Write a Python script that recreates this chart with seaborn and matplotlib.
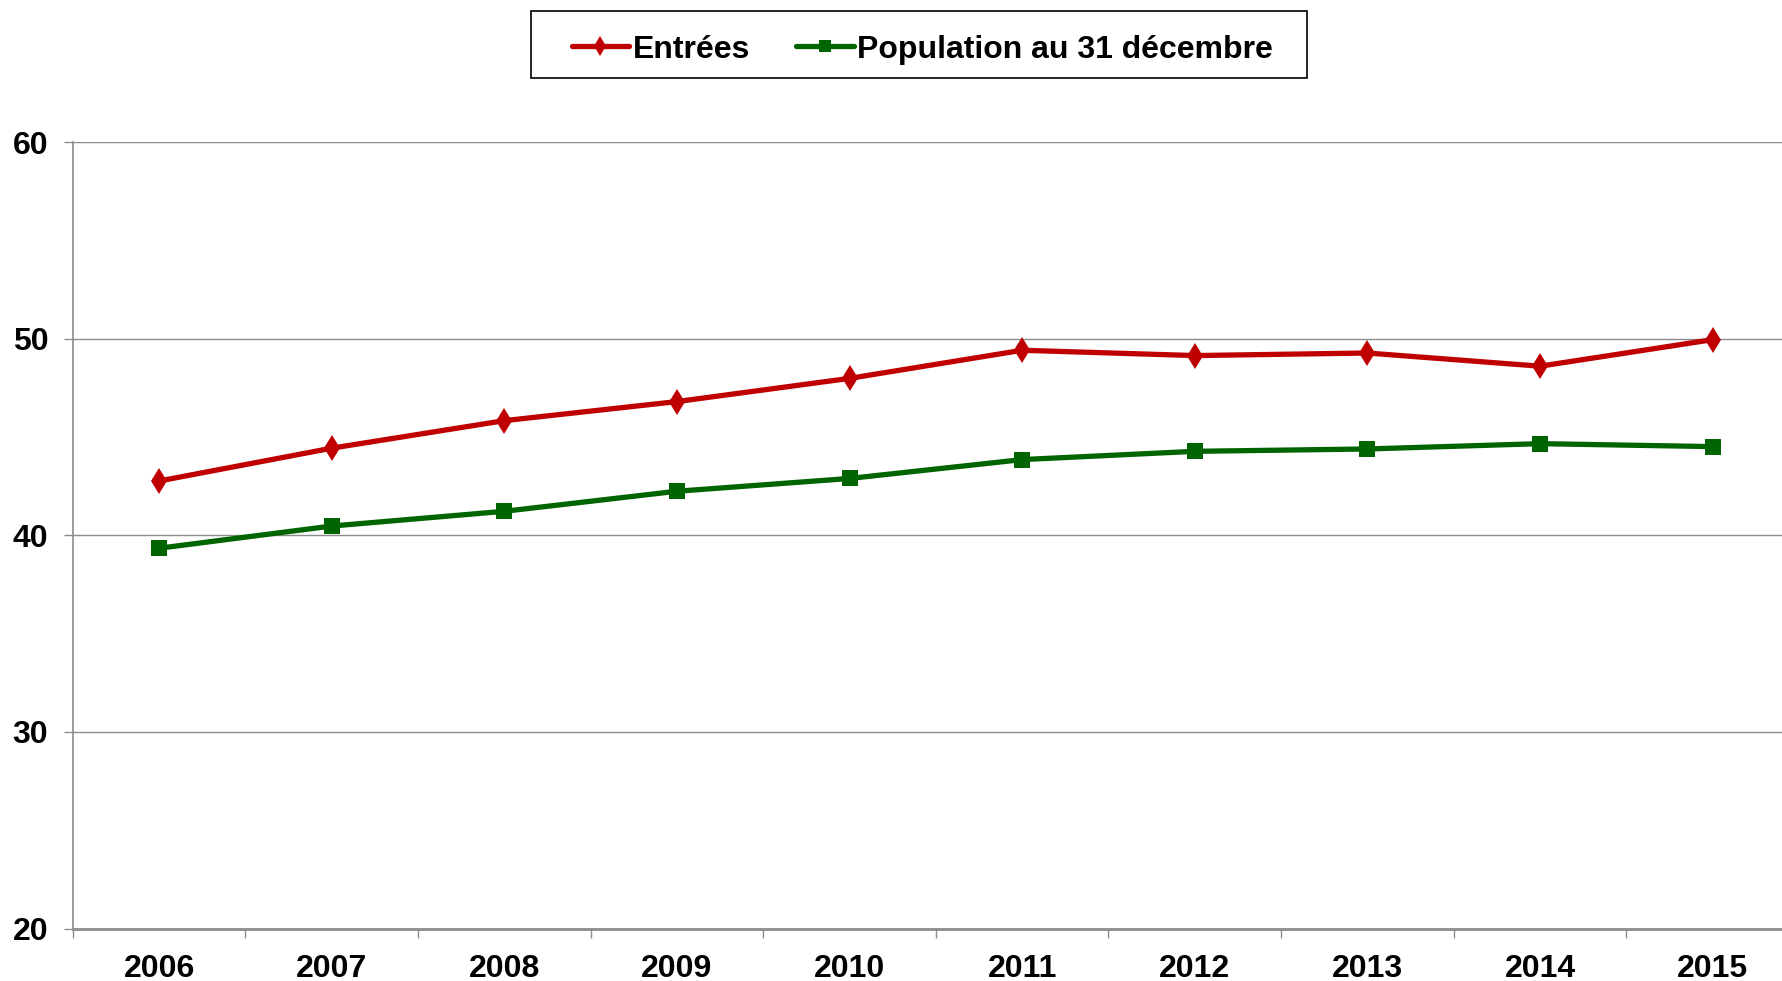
import numpy as np
import pandas as pd
import matplotlib
matplotlib.use('Agg')
import matplotlib.pyplot as plt
from matplotlib.patches import Rectangle
from matplotlib.ticker import FixedLocator, NullFormatter
import seaborn as sns

# Données
annees = ['2006', '2007', '2008', '2009', '2010', '2011', '2012', '2013', '2014', '2015']
entrees = [42.76, 44.43, 45.83, 46.80, 47.98, 49.41, 49.14, 49.27, 48.60, 49.95]
population = [39.34, 40.47, 41.22, 42.24, 42.89, 43.85, 44.27, 44.39, 44.66, 44.51]
series_noms = ['Entrées', 'Population au 31 décembre']
couleurs = ['#C00000', '#006400']
marqueurs = ['d', 's']
y_ticks = [20, 30, 40, 50, 60]

sns.set_style('white')
plt.rcParams['font.family'] = ['Liberation Sans', 'DejaVu Sans']
plt.rcParams['font.weight'] = 'bold'
plt.rcParams['text.color'] = 'black'
plt.rcParams['xtick.color'] = 'black'
plt.rcParams['ytick.color'] = 'black'


def build_frame():
    df = pd.DataFrame({'annee': annees, series_noms[0]: entrees, series_noms[1]: population})
    df['x'] = np.arange(len(annees))
    long_df = df.melt(id_vars=['annee', 'x'], value_vars=series_noms,
                      var_name='serie', value_name='valeur')
    return long_df


def plot_chart(long_df):
    fig = plt.figure(figsize=(17.82, 9.81), dpi=100)
    ax = fig.add_axes([0.0408, 0.0535, 0.9687, 0.8017])

    sns.lineplot(data=long_df, x='x', y='valeur', hue='serie', style='serie',
                 hue_order=series_noms, style_order=series_noms,
                 palette=dict(zip(series_noms, couleurs)),
                 markers=dict(zip(series_noms, marqueurs)),
                 dashes=False, linewidth=3.8, markersize=11,
                 markeredgewidth=0, ax=ax, legend=False, zorder=3)
    ax.lines[0].set_markersize(13)

    ax.set_xlim(-0.5, len(annees) - 0.5)
    ax.set_ylim(20, 60)
    ax.set_yticks(y_ticks)
    ax.set_yticklabels([str(t) for t in y_ticks])
    ax.set_xticks(np.arange(len(annees)))
    ax.set_xticklabels(annees)
    ax.xaxis.set_minor_locator(FixedLocator(np.arange(len(annees) + 1) - 0.5))
    ax.xaxis.set_minor_formatter(NullFormatter())
    ax.tick_params(axis='x', which='major', length=0, pad=18, labelsize=23,
                   labelcolor='black')
    ax.tick_params(axis='x', which='minor', bottom=True, length=6.5, width=1,
                   color='#8c8c8c', direction='out')
    ax.tick_params(axis='y', length=6.5, width=1, color='#8c8c8c', direction='out',
                   pad=11, labelsize=23, left=True, labelcolor='black')
    for lab in ax.get_xticklabels() + ax.get_yticklabels():
        lab.set_fontweight('bold')

    ax.grid(axis='y', color='#8c8c8c', linewidth=1)
    ax.grid(axis='x', visible=False)
    ax.set_axisbelow(True)
    for side in ['top', 'right']:
        ax.spines[side].set_visible(False)
    ax.spines['left'].set_color('#8c8c8c')
    ax.spines['left'].set_linewidth(1.2)
    ax.spines['bottom'].set_color('#8c8c8c')
    ax.spines['bottom'].set_linewidth(2)
    ax.set_xlabel('')
    ax.set_ylabel('')

    # legend without frame, box drawn separately for wider side padding
    handles = ax.lines[:2]
    leg = fig.legend(handles, series_noms, loc='center', bbox_to_anchor=(0.5175, 0.9495),
                     ncol=2, frameon=False,
                     prop={'size': 23, 'weight': 'bold'}, handlelength=1.8,
                     handletextpad=0.1, columnspacing=1.45, borderpad=0.5,
                     markerscale=0.8, borderaxespad=0)
    for t in leg.get_texts():
        t.set_color('black')
    fig.patches.append(Rectangle((0.298, 0.9205), 0.4354, 0.0683, transform=fig.transFigure,
                                 fill=False, edgecolor='black', linewidth=1.2))

    fig.savefig('out.png', dpi=100)
    plt.close(fig)


if __name__ == "__main__":
    plot_chart(build_frame())
